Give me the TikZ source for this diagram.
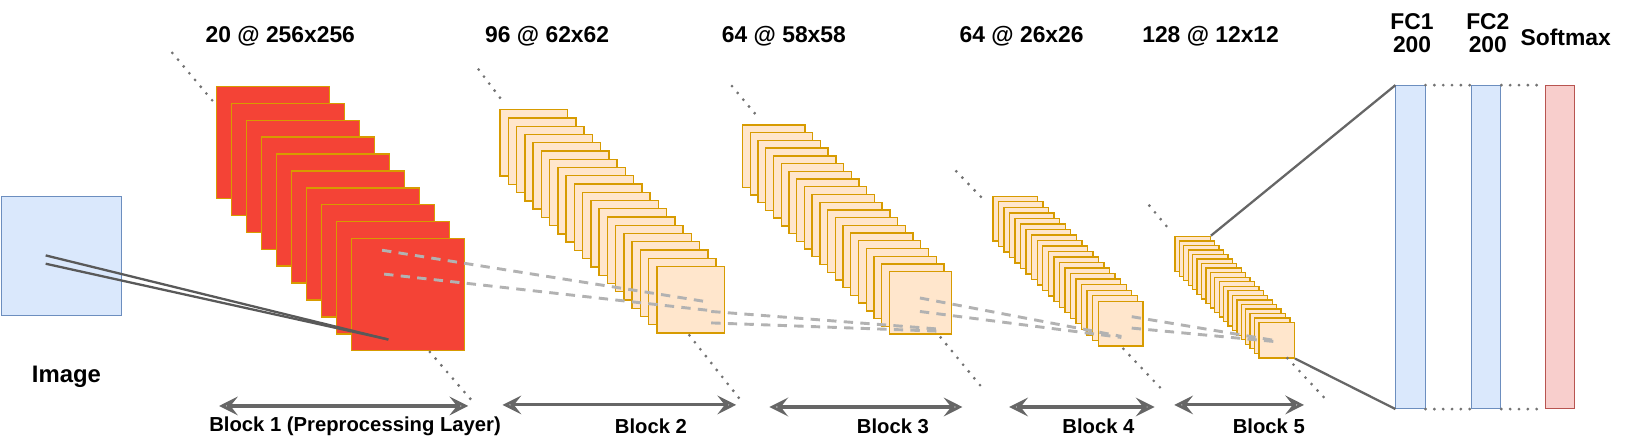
\documentclass[tikz,border=0pt]{standalone}
\usepackage{fontspec}
\setmainfont{Liberation Sans}
\usepackage{tikz}
\usetikzlibrary{arrows.meta}
\usetikzlibrary{positioning}
\definecolor{mapred}{HTML}{F44336}
\definecolor{maporange}{HTML}{FFE6CC}
\definecolor{mapedge}{HTML}{D79B00}
\definecolor{fcblue}{HTML}{DAE8FC}
\definecolor{fcedge}{HTML}{6C8EBF}
\definecolor{smred}{HTML}{F8CECC}
\definecolor{smedge}{HTML}{B85450}
\tikzset{
    redmap/.style={draw=mapedge, fill=mapred, line width=1.3pt, inner sep=0pt, anchor=north west},
    orangemap/.style={draw=mapedge, fill=maporange, line width=1.3pt, inner sep=0pt, anchor=north west},
    fclayer/.style={draw=fcedge, fill=fcblue, line width=1pt, inner sep=0pt, anchor=north west,
        minimum width=28pt, minimum height=311pt},
    title/.style={font=\fontsize{22}{24}\selectfont\bfseries, align=center},
    blocklabel/.style={font=\fontsize{19.5}{22}\selectfont\bfseries},
    dotline/.style={draw=gray!90!black, line width=3pt, dash pattern=on 0pt off 8.5pt, line cap=round},
    dashline/.style={draw=gray!60, line width=2.8pt, dash pattern=on 9pt off 7pt},
    blockarrow/.style={draw=gray!80!black, line width=3pt,
        {Stealth[open,length=18pt,width=18pt,inset=7pt]}-{Stealth[open,length=18pt,width=18pt,inset=7pt]}},
    fcline/.style={draw=gray!80!black, line width=2.2pt},
}
% #1 name, #2 count, #3 x, #4 y, #5 dx, #6 dy, #7 width, #8 height, #9 style
\newcommand{\fmaps}[9]{%
    \foreach \i in {1,...,#2}
        \node[#9, minimum width=#7pt, minimum height=#8pt] (#1-\i)
            at ({#3+(\i-1)*#5},{#4+(\i-1)*#6}) {};
}
\begin{document}
\begin{tikzpicture}[x=1pt, y=-1pt]
    \useasboundingbox (0,0) rectangle (1568,427);
    % input
    \node[draw=fcedge, fill=fcblue, line width=1pt, inner sep=0pt, anchor=north west,
        minimum width=116pt, minimum height=114pt] (img) at (0.5,189) {};
    \node[font=\fontsize{23}{25}\selectfont\bfseries] (imglabel) at (64,363) {Image};
    % feature maps
    \fmaps{ba}{10}{208}{82.5}{14.4}{16.3}{109}{108}{redmap}
    \fmaps{bb}{20}{481}{105}{7.95}{7.95}{65}{64}{orangemap}
    \fmaps{bc}{20}{714.6}{119.7}{7.44}{7.44}{60}{60}{orangemap}
    \fmaps{bd}{20}{955.6}{188.4}{5.34}{5.32}{43}{43}{orangemap}
    \fmaps{be}{20}{1131}{227}{4.26}{4.37}{34}{34}{orangemap}
    % fully connected
    \node[fclayer] (fc1) at (1344,82) {};
    \node[fclayer] (fc2) at (1417,82) {};
    \node[fclayer, draw=smedge, fill=smred] (soft) at (1488,82) {};
    % titles
    \node[title] (t1) at (270,35) {20 @ 256x256};
    \node[title] (t2) at (527,35) {96 @ 62x62};
    \node[title] (t3) at (755,35) {64 @ 58x58};
    \node[title] (t4) at (984,35) {64 @ 26x26};
    \node[title] (t5) at (1166,35) {128 @ 12x12};
    \node[title] (t6) at (1360,32) {FC1\\[-2pt]200};
    \node[title] (t7) at (1433,32) {FC2\\[-2pt]200};
    \node[title] (t8) at (1508,36) {Softmax};
    % receptive field lines
    \coordinate (ia) at (44,246);
    \coordinate (ib) at (44,254);
    \coordinate (ic) at (374,327);
    \draw[fcline, draw=gray!70!black] (ia) -- (ic);
    \draw[fcline, draw=gray!70!black] (ib) -- (ic);
    \coordinate (da1) at (368,241);  \coordinate (da2) at (683,291);
    \coordinate (db1) at (370,264);  \coordinate (db2) at (683,299);
    \coordinate (dc1) at (685,300);  \coordinate (dc2) at (905,317);
    \coordinate (dd1) at (685,311);  \coordinate (dd2) at (905,319);
    \coordinate (de1) at (886,287);  \coordinate (de2) at (1080,324);
    \coordinate (df1) at (886,300);  \coordinate (df2) at (1080,325);
    \coordinate (dg1) at (1090,305); \coordinate (dg2) at (1228,328);
    \coordinate (dh1) at (1090,316); \coordinate (dh2) at (1228,329);
    \foreach \d in {da,db,dc,dd,de,df,dg,dh}
        \draw[dashline] (\d1) -- (\d2);
    % stack guides
    \draw[dotline] (166,51) -- (208,101);
    \draw[dotline] (414,339) -- (458,390);
    \draw[dotline] (461,67) -- (486,100);
    \draw[dotline] (664,323) -- (713,385);
    \draw[dotline] (705,83) -- (731,114);
    \draw[dotline] (906,325) -- (948,376);
    \draw[dotline] (921,165) -- (949,194);
    \draw[dotline] (1082,336) -- (1119,375);
    \draw[dotline] (1107,198) -- (1127,222);
    \draw[dotline] (1240,345) -- (1280,388);
    % to dense layers
    \draw[fcline] (be-1.north east) -- (fc1.north west);
    \draw[fcline] (be-20.south east) -- (fc1.south west);
    \draw[dotline] (fc1.north east) -- (fc2.north west);
    \draw[dotline] (fc2.north east) -- (soft.north west);
    \draw[dotline] (fc1.south east) -- (fc2.south west);
    \draw[dotline] (fc2.south east) -- (soft.south west);
    % blocks
    \coordinate (a1l) at (211,391);   \coordinate (a1r) at (451,391);
    \coordinate (a2l) at (484,390);   \coordinate (a2r) at (709,390);
    \coordinate (a3l) at (741,392);   \coordinate (a3r) at (927,392);
    \coordinate (a4l) at (972,392);   \coordinate (a4r) at (1112,392);
    \coordinate (a5l) at (1131,390);  \coordinate (a5r) at (1256,390);
    \foreach \a in {a1,a2,a3,a4,a5}
        \draw[blockarrow] (\a l) -- (\a r);
    \node[blocklabel] (l1) at (342,411) {Block 1 (Preprocessing Layer)};
    \node[blocklabel] (l2) at (627,411) {Block 2};
    \node[blocklabel] (l3) at (860,411) {Block 3};
    \node[blocklabel] (l4) at (1058,411) {Block 4};
    \node[blocklabel] (l5) at (1222,411) {Block 5};
\end{tikzpicture}
\end{document}
